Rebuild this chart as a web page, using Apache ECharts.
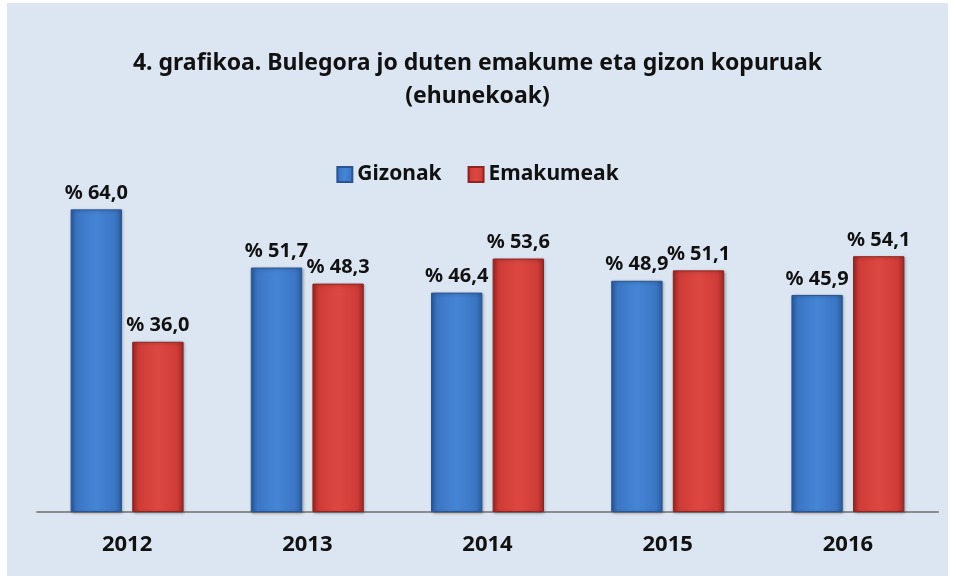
<!DOCTYPE html>
<html lang="eu">
<head>
<meta charset="UTF-8">
<title>4. grafikoa</title>
<script src="https://cdn.jsdelivr.net/npm/echarts@6/dist/echarts.min.js"></script>
<style>
  html, body { margin: 0; padding: 0; background: #ffffff; }
  #chart {
    position: absolute; left: 7px; top: 3px;
    width: 941px; height: 573px;
    background: #dce6f2;
  }
</style>
</head>
<body>
<div id="chart"></div>
<script>
  // urteak eta ehunekoak
  var years = ['2012', '2013', '2014', '2015', '2016'];
  var gizonak = [64.0, 51.7, 46.4, 48.9, 45.9];
  var emakumeak = [36.0, 48.3, 53.6, 51.1, 54.1];

  var font = 'Noto Sans';

  function barGradient(dark, mid, light) {
    return new echarts.graphic.LinearGradient(0, 0, 1, 0, [
      { offset: 0, color: dark },
      { offset: 0.13, color: mid },
      { offset: 0.5, color: light },
      { offset: 0.87, color: mid },
      { offset: 1, color: dark }
    ]);
  }

  var blue = barGradient('#2b5c9e', '#3b76c4', '#4585d6');
  var red = barGradient('#9c2a27', '#cf3c37', '#dd4741');

  var labelStyle = {
    show: true,
    position: 'top',
    distance: 6,
    fontFamily: font,
    fontWeight: 'bold',
    fontSize: 20,
    color: '#111',
    formatter: function (p) { return '% ' + p.value.toFixed(1).replace('.', ','); }
  };

  var chart = echarts.init(document.getElementById('chart'));

  var option = {
    title: {
      text: '4. grafikoa. Bulegora jo duten emakume eta gizon kopuruak\n(ehunekoak)',
      left: 'center',
      top: 39,
      textStyle: {
        fontFamily: font,
        fontWeight: 'bold',
        fontSize: 23,
        lineHeight: 33,
        color: '#111'
      }
    },
    legend: {
      top: 156,
      left: 'center',
      itemWidth: 15,
      itemHeight: 15,
      itemGap: 26,
      icon: 'rect',
      textStyle: {
        fontFamily: font,
        fontWeight: 'bold',
        fontSize: 21,
        color: '#111'
      },
      data: ['Gizonak', 'Emakumeak']
    },
    grid: {
      left: 30,
      right: 10,
      top: 178,
      bottom: 64
    },
    xAxis: {
      type: 'category',
      data: years,
      axisLine: { lineStyle: { color: '#8c8c8c', width: 2 } },
      axisTick: { show: false },
      axisLabel: {
        margin: 22,
        fontFamily: font,
        fontWeight: 'bold',
        fontSize: 22,
        color: '#111'
      }
    },
    yAxis: {
      type: 'value',
      min: 0,
      max: 70,
      show: false
    },
    series: [
      {
        name: 'Gizonak',
        type: 'bar',
        data: gizonak,
        barWidth: '28.5%',
        barGap: '20%',
        itemStyle: {
          color: blue,
          borderColor: '#2a5590',
          borderWidth: 1,
          shadowColor: 'rgba(0,0,0,0.3)',
          shadowBlur: 3,
          shadowOffsetX: 1,
          shadowOffsetY: 1
        },
        label: labelStyle
      },
      {
        name: 'Emakumeak',
        type: 'bar',
        data: emakumeak,
        barWidth: '28.5%',
        itemStyle: {
          color: red,
          borderColor: '#8e2522',
          borderWidth: 1,
          shadowColor: 'rgba(0,0,0,0.3)',
          shadowBlur: 3,
          shadowOffsetX: 1,
          shadowOffsetY: 1
        },
        label: labelStyle
      }
    ]
  };

  chart.setOption(option);

  window.addEventListener('resize', function () {
    chart.resize();
  });
</script>
</body>
</html>
